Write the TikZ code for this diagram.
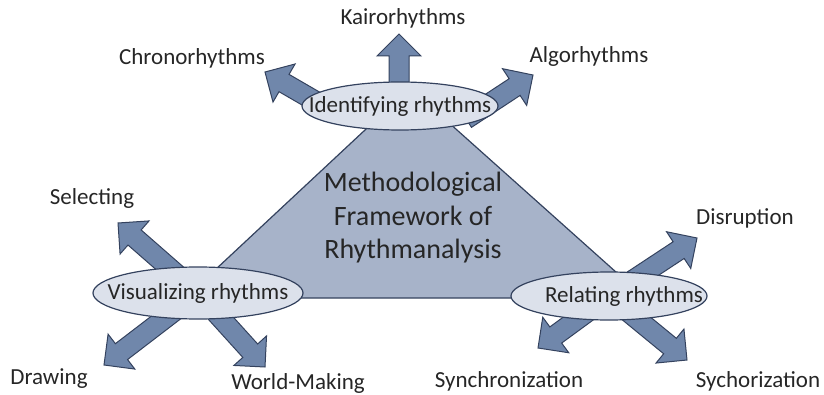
\documentclass[tikz,border=0pt]{standalone}
\usepackage{fontspec}
\setmainfont{Carlito}
\usetikzlibrary{calc}

\definecolor{inkline}{HTML}{34425E}
\definecolor{trifill}{HTML}{A7B3C9}
\definecolor{arrowfill}{HTML}{7087AB}
\definecolor{ovalfill}{HTML}{DCE1EB}
\definecolor{txt}{HTML}{262626}

% block arrow from tail #1 to tip #2
\newcommand{\blockarrow}[2]{%
  \coordinate (hb) at ($(#2)!22pt!(#1)$);
  \filldraw[blockarr] ($(#1)!10pt!90:(#2)$) -- ($(hb)!10pt!90:(#2)$)
    -- ($(hb)!22pt!90:(#2)$) -- (#2) -- ($(hb)!22pt!-90:(#2)$)
    -- ($(hb)!10pt!-90:(#2)$) -- ($(#1)!10pt!-90:(#2)$) -- cycle;}

\begin{document}
\begin{tikzpicture}[x=1pt,y=-1pt,
  oval/.style={draw=inkline,fill=ovalfill,line width=1.2pt},
  lbl/.style={text=txt,font=\fontsize{23}{28}\selectfont,inner sep=0pt},
  blockarr/.style={draw=inkline,fill=arrowfill,line width=1pt,line join=miter},
  tri/.style={draw=inkline,fill=trifill,line width=1.2pt}]
\useasboundingbox (0,0) rectangle (824,395);
% centres of the three ovals
\coordinate (idc) at (400,106);
\coordinate (vic) at (198,293);
\coordinate (rec) at (609,296);
% triangle
\draw[tri] (185,298) -- (410,88) -- (645,298) -- cycle;
\node[text=txt,align=center,font=\fontsize{28}{33.5}\selectfont] (frame) at (413,218)
  {Methodological\\Framework of\\Rhythmanalysis};
% arrow tips and tails
\coordinate (kairotip) at (399,34);
\coordinate (kairotail) at (399,110);
\coordinate (chronotip) at (265,72);
\coordinate (chronotail) at (334,112);
\coordinate (algotip) at (533,75);
\coordinate (algotail) at (466,119);
\coordinate (selecttip) at (118,223);
\coordinate (drawtip) at (104,365);
\coordinate (worldtip) at (265,367);
\coordinate (disrupttip) at (697,238);
\coordinate (synctip) at (538,348);
\coordinate (sychotip) at (687,360);
\blockarrow{kairotail}{kairotip}
\blockarrow{chronotail}{chronotip}
\blockarrow{algotail}{algotip}
\blockarrow{vic}{selecttip}
\blockarrow{vic}{drawtip}
\blockarrow{vic}{worldtip}
\blockarrow{rec}{disrupttip}
\blockarrow{rec}{synctip}
\blockarrow{rec}{sychotip}
% ovals
\draw[oval] (idc) ellipse [x radius=98, y radius=24];
\draw[oval] (vic) ellipse [x radius=105, y radius=26];
\draw[oval] (rec) ellipse [x radius=98, y radius=24];
\node[lbl] (identify) at (idc) {Identifying rhythms};
\node[lbl] (visual)   at (vic) {Visualizing rhythms};
\node[lbl] (relate)   at ([xshift=15pt]rec) {Relating rhythms};
% labels
\node[lbl] (kairo)   at (403,18)  {Kairorhythms};
\node[lbl] (chrono)  at (192,58)  {Chronorhythms};
\node[lbl] (algo)    at (589,56)  {Algorhythms};
\node[lbl] (select)  at (92,198)  {Selecting};
\node[lbl] (drawing) at (49,379)  {Drawing};
\node[lbl] (world)   at (298,383) {World-Making};
\node[lbl] (sync)    at (509,381) {Synchronization};
\node[lbl] (sycho)   at (758,381) {Sychorization};
\node[lbl] (disrupt) at (745,218) {Disruption};
\end{tikzpicture}
\end{document}
